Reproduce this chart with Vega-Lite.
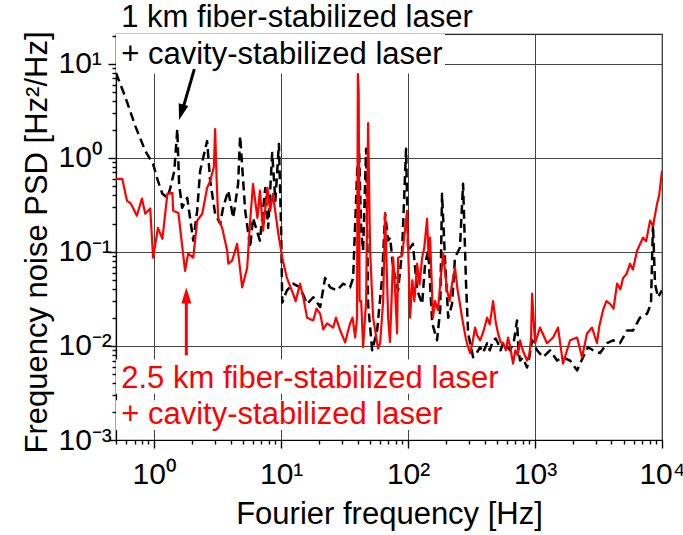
{
  "$schema": "https://vega.github.io/schema/vega-lite/v6.json",
  "width": 546,
  "height": 406,
  "autosize": {"type": "none"},
  "padding": {"left": 116, "top": 34, "right": 21, "bottom": 95},
  "background": "white",
  "config": {
    "font": "Liberation Sans",
    "view": {"stroke": "#222", "strokeWidth": 1.2},
    "axis": {
      "labelFont": "Liberation Sans",
      "titleFont": "Liberation Sans",
      "labelFontSize": 30,
      "titleFontSize": 31,
      "titleFontWeight": "normal",
      "labelColor": "black",
      "titleColor": "black",
      "domainColor": "black",
      "tickColor": "black",
      "domainWidth": 1.2,
      "tickWidth": 1.4,
      "gridColor": "#444",
      "gridWidth": 1,
      "labelOverlap": false,
      "labelFlush": false,
      "labelBound": false
    }
  },
  "datasets": {
    "fiber1km": [
      {"f": 0.5, "psd": 8.0}, {"f": 0.59, "psd": 4.5}, {"f": 0.71, "psd": 2.18}, {"f": 0.85, "psd": 1.19},
      {"f": 0.98, "psd": 0.86}, {"f": 1.07, "psd": 0.57}, {"f": 1.16, "psd": 0.415}, {"f": 1.27, "psd": 0.377},
      {"f": 1.34, "psd": 0.48}, {"f": 1.44, "psd": 0.73}, {"f": 1.52, "psd": 2.03}, {"f": 1.57, "psd": 0.53},
      {"f": 1.66, "psd": 0.295}, {"f": 1.82, "psd": 0.377}, {"f": 2.03, "psd": 0.132}, {"f": 2.18, "psd": 0.274},
      {"f": 2.3, "psd": 0.73}, {"f": 2.61, "psd": 1.51}, {"f": 2.76, "psd": 0.57}, {"f": 3.02, "psd": 0.255},
      {"f": 3.31, "psd": 0.2}, {"f": 3.49, "psd": 0.295}, {"f": 3.83, "psd": 0.45}, {"f": 4.19, "psd": 0.23},
      {"f": 4.58, "psd": 0.53}, {"f": 4.75, "psd": 1.71}, {"f": 5.21, "psd": 0.274}, {"f": 5.7, "psd": 0.111},
      {"f": 6.0, "psd": 0.23}, {"f": 6.8, "psd": 0.132}, {"f": 7.5, "psd": 0.48}, {"f": 7.9, "psd": 0.18},
      {"f": 8.5, "psd": 1.13}, {"f": 9.0, "psd": 0.35}, {"f": 9.6, "psd": 1.41}, {"f": 10.0, "psd": 0.168},
      {"f": 10.2, "psd": 0.029}, {"f": 11.1, "psd": 0.039}, {"f": 12.4, "psd": 0.046}, {"f": 14.1, "psd": 0.042},
      {"f": 16.0, "psd": 0.028}, {"f": 17.9, "psd": 0.033}, {"f": 20.3, "psd": 0.026}, {"f": 22.2, "psd": 0.053},
      {"f": 24.3, "psd": 0.042}, {"f": 27.6, "psd": 0.039}, {"f": 30.8, "psd": 0.046}, {"f": 34.9, "psd": 0.042},
      {"f": 36.9, "psd": 0.053}, {"f": 39.7, "psd": 0.73}, {"f": 41.1, "psd": 1.19}, {"f": 42.7, "psd": 0.168},
      {"f": 44.2, "psd": 0.103}, {"f": 46.7, "psd": 1.25}, {"f": 48.4, "psd": 0.028}, {"f": 52.1, "psd": 0.009},
      {"f": 57.0, "psd": 0.0146}, {"f": 62.4, "psd": 0.053}, {"f": 65.9, "psd": 0.255}, {"f": 69.6, "psd": 0.132},
      {"f": 72.2, "psd": 0.142}, {"f": 76.2, "psd": 0.068}, {"f": 83.4, "psd": 0.039}, {"f": 89.7, "psd": 0.103},
      {"f": 96.4, "psd": 1.25}, {"f": 100, "psd": 0.103}, {"f": 109, "psd": 0.122}, {"f": 118, "psd": 0.039},
      {"f": 129, "psd": 0.028}, {"f": 136, "psd": 0.075}, {"f": 144, "psd": 0.103}, {"f": 155, "psd": 0.0174},
      {"f": 169, "psd": 0.0115}, {"f": 179, "psd": 0.024}, {"f": 185, "psd": 0.415}, {"f": 196, "psd": 0.075},
      {"f": 207, "psd": 0.02}, {"f": 222, "psd": 0.028}, {"f": 234, "psd": 0.087}, {"f": 256, "psd": 0.111},
      {"f": 271, "psd": 0.53}, {"f": 286, "psd": 0.046}, {"f": 297, "psd": 0.0136}, {"f": 325, "psd": 0.0076},
      {"f": 340, "psd": 0.008}, {"f": 369, "psd": 0.0097}, {"f": 390, "psd": 0.0085}, {"f": 419, "psd": 0.0107},
      {"f": 440, "psd": 0.009}, {"f": 467, "psd": 0.0115}, {"f": 490, "psd": 0.012}, {"f": 511, "psd": 0.0107},
      {"f": 535, "psd": 0.009}, {"f": 560, "psd": 0.0107}, {"f": 600, "psd": 0.01}, {"f": 635, "psd": 0.009},
      {"f": 680, "psd": 0.011}, {"f": 721, "psd": 0.0187}, {"f": 740, "psd": 0.009}, {"f": 762, "psd": 0.007},
      {"f": 800, "psd": 0.0075}, {"f": 865, "psd": 0.0059}, {"f": 900, "psd": 0.0075}, {"f": 947, "psd": 0.0115},
      {"f": 1037, "psd": 0.009}, {"f": 1156, "psd": 0.0076}, {"f": 1312, "psd": 0.009}, {"f": 1490, "psd": 0.007},
      {"f": 1660, "psd": 0.0076}, {"f": 1888, "psd": 0.007}, {"f": 2143, "psd": 0.0055}, {"f": 2390, "psd": 0.0076},
      {"f": 2612, "psd": 0.0097}, {"f": 2864, "psd": 0.009}, {"f": 3251, "psd": 0.0084}, {"f": 3690, "psd": 0.0107},
      {"f": 4111, "psd": 0.0115}, {"f": 4667, "psd": 0.0107}, {"f": 5297, "psd": 0.0146}, {"f": 5915, "psd": 0.0146},
      {"f": 6714, "psd": 0.02}, {"f": 7622, "psd": 0.022}, {"f": 8190, "psd": 0.028}, {"f": 8490, "psd": 0.2},
      {"f": 8810, "psd": 0.046}, {"f": 9300, "psd": 0.033}, {"f": 10000, "psd": 0.039}
    ],
    "fiber25km": [
      {"f": 0.5, "psd": 0.6}, {"f": 0.56, "psd": 0.6}, {"f": 0.61, "psd": 0.35}, {"f": 0.65, "psd": 0.33},
      {"f": 0.68, "psd": 0.295}, {"f": 0.73, "psd": 0.243}, {"f": 0.8, "psd": 0.37}, {"f": 0.85, "psd": 0.255},
      {"f": 0.93, "psd": 0.29}, {"f": 0.98, "psd": 0.087}, {"f": 1.07, "psd": 0.18}, {"f": 1.16, "psd": 0.138},
      {"f": 1.27, "psd": 0.415}, {"f": 1.39, "psd": 0.425}, {"f": 1.41, "psd": 0.274}, {"f": 1.55, "psd": 0.26},
      {"f": 1.75, "psd": 0.063}, {"f": 1.85, "psd": 0.096}, {"f": 2.03, "psd": 0.087}, {"f": 2.18, "psd": 0.215},
      {"f": 2.39, "psd": 0.255}, {"f": 2.61, "psd": 0.48}, {"f": 2.76, "psd": 0.57}, {"f": 2.95, "psd": 0.8},
      {"f": 3.02, "psd": 2.03}, {"f": 3.1, "psd": 0.6}, {"f": 3.19, "psd": 0.23}, {"f": 3.43, "psd": 0.18},
      {"f": 3.76, "psd": 0.103}, {"f": 3.83, "psd": 0.075}, {"f": 4.11, "psd": 0.081}, {"f": 4.5, "psd": 0.122},
      {"f": 4.93, "psd": 0.042}, {"f": 5.4, "psd": 0.068}, {"f": 5.7, "psd": 0.215}, {"f": 6.0, "psd": 0.53},
      {"f": 6.5, "psd": 0.23}, {"f": 6.8, "psd": 0.45}, {"f": 7.2, "psd": 0.168}, {"f": 7.8, "psd": 0.48},
      {"f": 8.2, "psd": 0.274}, {"f": 8.6, "psd": 0.415}, {"f": 9.5, "psd": 0.156}, {"f": 10.2, "psd": 0.087},
      {"f": 11.1, "psd": 0.053}, {"f": 12.4, "psd": 0.036}, {"f": 13.0, "psd": 0.03}, {"f": 14.1, "psd": 0.046},
      {"f": 15.0, "psd": 0.032}, {"f": 16.0, "psd": 0.02}, {"f": 17.9, "psd": 0.0187}, {"f": 19.0, "psd": 0.025},
      {"f": 20.3, "psd": 0.022}, {"f": 21.5, "psd": 0.015}, {"f": 23.0, "psd": 0.0174}, {"f": 25.7, "psd": 0.0157},
      {"f": 27.0, "psd": 0.02}, {"f": 29.2, "psd": 0.0146}, {"f": 31.9, "psd": 0.0109}, {"f": 33.0, "psd": 0.013},
      {"f": 34.9, "psd": 0.0174}, {"f": 36.5, "psd": 0.02}, {"f": 38.3, "psd": 0.0123}, {"f": 39.6, "psd": 0.02},
      {"f": 40.2, "psd": 7.8}, {"f": 40.8, "psd": 5.0}, {"f": 41.5, "psd": 0.03}, {"f": 42.7, "psd": 0.03},
      {"f": 44.2, "psd": 0.0097}, {"f": 46.7, "psd": 0.03}, {"f": 48.4, "psd": 2.35}, {"f": 50.2, "psd": 0.103},
      {"f": 53.0, "psd": 0.02}, {"f": 58.0, "psd": 0.0094}, {"f": 60.2, "psd": 0.0107}, {"f": 63.6, "psd": 0.03},
      {"f": 65.9, "psd": 0.26}, {"f": 69.6, "psd": 0.02}, {"f": 72.0, "psd": 0.011}, {"f": 76.2, "psd": 0.087},
      {"f": 79.0, "psd": 0.039}, {"f": 81.9, "psd": 0.0136}, {"f": 83.4, "psd": 0.087}, {"f": 89.7, "psd": 0.091},
      {"f": 98.2, "psd": 0.274}, {"f": 103.7, "psd": 0.02}, {"f": 108, "psd": 0.05}, {"f": 112, "psd": 0.03},
      {"f": 117.8, "psd": 0.075}, {"f": 123, "psd": 0.045}, {"f": 128.9, "psd": 0.087}, {"f": 134, "psd": 0.11},
      {"f": 141, "psd": 0.225}, {"f": 145, "psd": 0.09}, {"f": 149, "psd": 0.142}, {"f": 157, "psd": 0.02},
      {"f": 163, "psd": 0.03}, {"f": 172, "psd": 0.024}, {"f": 180, "psd": 0.05}, {"f": 189, "psd": 0.096},
      {"f": 196, "psd": 0.06}, {"f": 203, "psd": 0.039}, {"f": 212, "psd": 0.03}, {"f": 222, "psd": 0.046},
      {"f": 234, "psd": 0.068}, {"f": 245, "psd": 0.04}, {"f": 256, "psd": 0.028}, {"f": 263, "psd": 0.022},
      {"f": 271, "psd": 0.0174}, {"f": 285, "psd": 0.012}, {"f": 295, "psd": 0.01}, {"f": 308, "psd": 0.0084},
      {"f": 322, "psd": 0.011}, {"f": 337, "psd": 0.0157}, {"f": 350, "psd": 0.013}, {"f": 369, "psd": 0.0115},
      {"f": 390, "psd": 0.014}, {"f": 419, "psd": 0.02}, {"f": 440, "psd": 0.017}, {"f": 467, "psd": 0.03},
      {"f": 490, "psd": 0.018}, {"f": 511, "psd": 0.0136}, {"f": 535, "psd": 0.011}, {"f": 560, "psd": 0.0107},
      {"f": 590, "psd": 0.009}, {"f": 613, "psd": 0.0123}, {"f": 640, "psd": 0.0095}, {"f": 671, "psd": 0.0065},
      {"f": 700, "psd": 0.009}, {"f": 730, "psd": 0.008}, {"f": 762, "psd": 0.0115}, {"f": 800, "psd": 0.009},
      {"f": 865, "psd": 0.007}, {"f": 900, "psd": 0.008}, {"f": 930, "psd": 0.012}, {"f": 947, "psd": 0.036},
      {"f": 1000, "psd": 0.0107}, {"f": 1094, "psd": 0.0157}, {"f": 1242, "psd": 0.0107}, {"f": 1387, "psd": 0.0123},
      {"f": 1517, "psd": 0.0157}, {"f": 1660, "psd": 0.0065}, {"f": 1888, "psd": 0.0115}, {"f": 2143, "psd": 0.0123},
      {"f": 2345, "psd": 0.0076}, {"f": 2566, "psd": 0.0136}, {"f": 2812, "psd": 0.0157}, {"f": 3077, "psd": 0.0107},
      {"f": 3200, "psd": 0.016}, {"f": 3430, "psd": 0.024}, {"f": 3650, "psd": 0.03}, {"f": 3898, "psd": 0.028},
      {"f": 4150, "psd": 0.025}, {"f": 4426, "psd": 0.046}, {"f": 4700, "psd": 0.04}, {"f": 4934, "psd": 0.053},
      {"f": 5250, "psd": 0.058}, {"f": 5598, "psd": 0.075}, {"f": 5900, "psd": 0.065}, {"f": 6357, "psd": 0.103},
      {"f": 6700, "psd": 0.12}, {"f": 7080, "psd": 0.142}, {"f": 7500, "psd": 0.13}, {"f": 8050, "psd": 0.215},
      {"f": 8500, "psd": 0.19}, {"f": 9140, "psd": 0.325}, {"f": 9500, "psd": 0.4}, {"f": 10000, "psd": 0.73}
    ],
    "boxes": [
      {"f": 0.5, "f2": 195, "psd": 7.9, "psd2": 20.8},
      {"f": 0.5, "f2": 530, "psd": 0.0031, "psd2": 0.0072},
      {"f": 0.5, "f2": 190, "psd": 0.00128, "psd2": 0.00265}
    ],
    "blackArrowShaft": [{"f": 2.07, "psd": 8.79, "f2": 1.66, "psd2": 3.15}],
    "blackArrowTip": [{"f": 1.57, "psd": 2.53}],
    "redArrowShaft": [{"f": 1.79, "psd": 0.00795, "f2": 1.79, "psd2": 0.0305}],
    "redArrowTip": [{"f": 1.79, "psd": 0.0418}],
    "blackLabels": [
      {"f": 0.55, "psd": 24.5, "label": "1 km fiber-stabilized laser"},
      {"f": 0.55, "psd": 10, "label": "+ cavity-stabilized laser"}
    ],
    "redLabels": [
      {"f": 0.55, "psd": 0.00355, "label": "2.5 km fiber-stabilized laser"},
      {"f": 0.55, "psd": 0.00148, "label": "+ cavity-stabilized laser"}
    ]
  },
  "layer": [
    {
      "encoding": {
        "x": {
          "field": "f",
          "type": "quantitative",
          "scale": {"type": "log", "domain": [0.5, 10000], "nice": false},
          "axis": {
            "orient": "bottom",
            "values": [1, 10, 100, 1000, 10000],
            "title": "Fourier frequency [Hz]",
            "labelExpr": "'10' + ['⁻³','⁻²','⁻¹','⁰','¹','²','³','⁴'][round(log(datum.value)/LN10) + 3]",
            "ticks": true,
            "tickSize": 8,
            "grid": true,
            "labelPadding": 11,
            "titleY": 83,
            "titleBaseline": "alphabetic"
          }
        },
        "y": {
          "field": "psd",
          "type": "quantitative",
          "scale": {"type": "log", "domain": [0.001, 20.8], "nice": false},
          "axis": {
            "orient": "left",
            "values": [0.001, 0.01, 0.1, 1, 10],
            "title": "Frequency noise PSD [Hz²/Hz]",
            "labelExpr": "'10' + ['⁻³','⁻²','⁻¹','⁰','¹','²','³','⁴'][round(log(datum.value)/LN10) + 3]",
            "ticks": true,
            "tickSize": 8,
            "grid": true,
            "labelAlign": "left",
            "labelPadding": 50,
            "titleX": -70,
            "titleY": 208,
            "titleAngle": 270,
            "titleAlign": "center",
            "titleBaseline": "alphabetic"
          }
        }
      },
      "layer": [
        {
          "data": {"name": "boxes"},
          "mark": {"type": "rect", "fill": "white", "stroke": null},
          "encoding": {"x2": {"field": "f2"}, "y2": {"field": "psd2"}}
        },
        {
          "data": {"name": "fiber1km"},
          "mark": {"type": "line", "color": "black", "strokeWidth": 2.5, "strokeDash": [9, 5], "strokeJoin": "round", "clip": true},
          "encoding": {}
        },
        {
          "data": {"name": "fiber25km"},
          "mark": {"type": "line", "color": "#ff0000", "strokeWidth": 2.2, "strokeJoin": "round", "clip": true},
          "encoding": {}
        },
        {
          "data": {"name": "blackArrowShaft"},
          "mark": {"type": "rule", "color": "black", "strokeWidth": 3},
          "encoding": {"x2": {"field": "f2"}, "y2": {"field": "psd2"}}
        },
        {
          "data": {"name": "blackArrowTip"},
          "mark": {"type": "point", "shape": "M0,0L-0.5,-1.6L0.5,-1.6Z", "size": 400, "filled": true, "color": "black", "opacity": 1, "angle": 16, "strokeWidth": 0},
          "encoding": {}
        },
        {
          "data": {"name": "redArrowShaft"},
          "mark": {"type": "rule", "color": "#ff0000", "strokeWidth": 3},
          "encoding": {"x2": {"field": "f2"}, "y2": {"field": "psd2"}}
        },
        {
          "data": {"name": "redArrowTip"},
          "mark": {"type": "point", "shape": "M0,0L-0.5,-1.6L0.5,-1.6Z", "size": 400, "filled": true, "color": "#ff0000", "opacity": 1, "angle": 180, "strokeWidth": 0},
          "encoding": {}
        },
        {
          "data": {"name": "blackLabels"},
          "mark": {"type": "text", "align": "left", "baseline": "alphabetic", "fontSize": 31, "font": "Liberation Sans", "color": "black"},
          "encoding": {"text": {"field": "label"}}
        },
        {
          "data": {"name": "redLabels"},
          "mark": {"type": "text", "align": "left", "baseline": "alphabetic", "fontSize": 31, "font": "Liberation Sans", "color": "#ff0000"},
          "encoding": {"text": {"field": "label"}}
        }
      ]
    },
    {
      "data": {"name": "boxes"},
      "mark": {"type": "point", "opacity": 0},
      "encoding": {
        "x": {
          "field": "f",
          "type": "quantitative",
          "scale": {"type": "log", "domain": [0.5, 10000], "nice": false},
          "axis": {
            "orient": "bottom",
            "values": [0.5, 0.6, 0.7, 0.8, 0.9, 2, 3, 4, 5, 6, 7, 8, 9, 20, 30, 40, 50, 60, 70, 80, 90, 200, 300, 400, 500, 600, 700, 800, 900, 2000, 3000, 4000, 5000, 6000, 7000, 8000, 9000],
            "title": null,
            "labels": false,
            "domain": false,
            "grid": false,
            "ticks": true,
            "tickSize": 4
          }
        },
        "y": {
          "field": "psd",
          "type": "quantitative",
          "scale": {"type": "log", "domain": [0.001, 20.8], "nice": false},
          "axis": {
            "orient": "left",
            "values": [0.002, 0.003, 0.004, 0.005, 0.006, 0.007, 0.008, 0.009, 0.02, 0.03, 0.04, 0.05, 0.06, 0.07, 0.08, 0.09, 0.2, 0.3, 0.4, 0.5, 0.6, 0.7, 0.8, 0.9, 2, 3, 4, 5, 6, 7, 8, 9, 20],
            "title": null,
            "labels": false,
            "domain": false,
            "grid": false,
            "ticks": true,
            "tickSize": 4
          }
        }
      }
    }
  ],
  "resolve": {"axis": {"x": "independent", "y": "independent"}}
}
